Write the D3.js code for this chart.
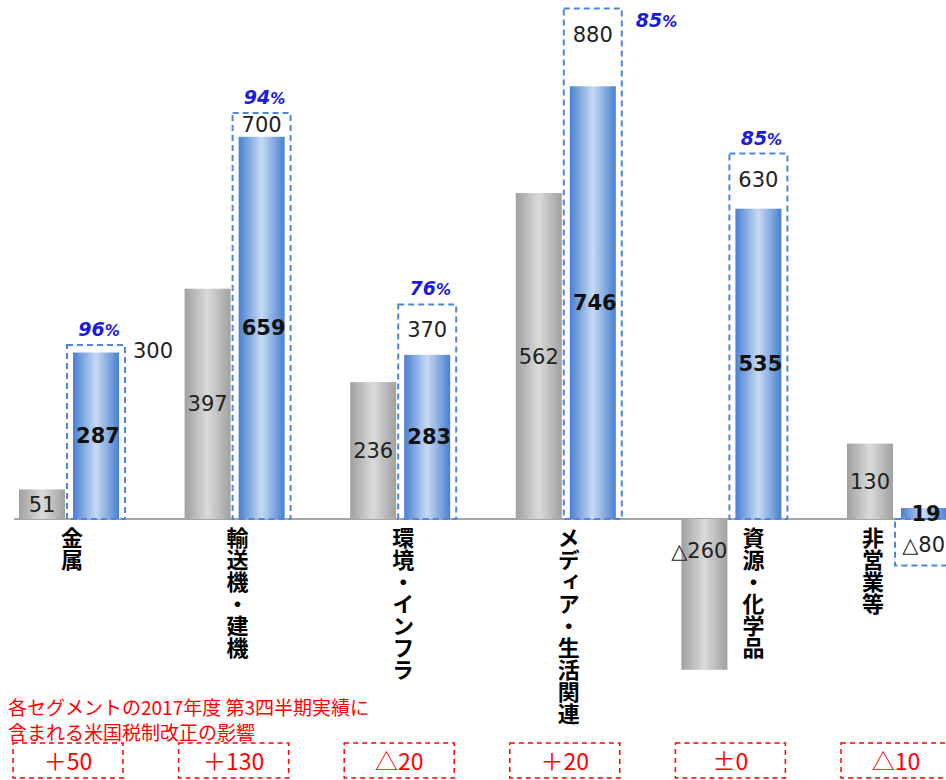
<!DOCTYPE html>
<html><head><meta charset="utf-8">
<script src="https://cdn.jsdelivr.net/npm/d3@7"></script>
<style>
html,body{margin:0;padding:0;background:#fff;}
svg{display:block;}
</style></head>
<body>
<div id="chart"></div>
<script>
// ---- data ----
const categories = ["金属","輸送機・建機","環境・インフラ","メディア・生活関連","資源・化学品","非営業等"];
const prevValues = [51, 397, 236, 562, -260, 130];       // grey bars
const currValues = [287, 659, 283, 746, 535, 19];        // blue bars
const forecastValues = [300, 700, 370, 880, 630, -80];   // dashed boxes
const progressLabels = ["96", "94", "76", "85", "85", null];
const taxImpactLabels = ["＋50", "＋130", "△20", "＋20", "±0", "△10"];
const noteLines = ["各セグメントの2017年度 第3四半期実績に", "含まれる米国税制改正の影響"];

// ---- setup ----
const W = 946, H = 780;
const svg = d3.select("#chart").append("svg").attr("width", W).attr("height", H);
svg.append("rect").attr("width", W).attr("height", H).attr("fill", "#fff");

const x = d3.scaleBand().domain(categories).range([-13.8, 979.8]).padding(0);
const xs = d3.scaleBand().domain(["prev", "curr"]).range([-50, 50]).paddingInner(8 / 54);
const y = d3.scaleLinear().domain([0, 1000]).range([519, -61]);

const fmt = v => v < 0 ? "△" + Math.abs(v) : String(v);
const cx = c => x(c) + x.bandwidth() / 2;

const defs = svg.append("defs");
const gG = defs.append("linearGradient").attr("id", "gGrey").attr("x1", "0").attr("x2", "1").attr("y1", "0").attr("y2", "0");
gG.append("stop").attr("offset", "0").attr("stop-color", "#a0a0a0");
gG.append("stop").attr("offset", "0.5").attr("stop-color", "#dadada");
gG.append("stop").attr("offset", "1").attr("stop-color", "#a0a0a0");
const gB = defs.append("linearGradient").attr("id", "gBlue").attr("x1", "0").attr("x2", "1").attr("y1", "0").attr("y2", "0");
gB.append("stop").attr("offset", "0").attr("stop-color", "#4a7fd2");
gB.append("stop").attr("offset", "0.5").attr("stop-color", "#c6daf2");
gB.append("stop").attr("offset", "1").attr("stop-color", "#4a7fd2");

const numFont = "'DejaVu Sans', Verdana, sans-serif";
const jpFont = "'Noto Sans CJK JP', 'Noto Sans CJK SC', sans-serif";

// baseline
svg.append("line").attr("x1", 14).attr("x2", W).attr("y1", y(0)).attr("y2", y(0))
  .attr("stroke", "#a6a6a6").attr("stroke-width", 2);

const rows = categories.map((c, i) => ({c, i, prev: prevValues[i], curr: currValues[i], fc: forecastValues[i], pct: progressLabels[i], tax: taxImpactLabels[i]}));

// grey bars
svg.selectAll(".gbar").data(rows).join("rect")
  .attr("x", d => cx(d.c) + xs("prev")).attr("width", xs.bandwidth())
  .attr("y", d => y(Math.max(0, d.prev))).attr("height", d => Math.abs(y(d.prev) - y(0)))
  .attr("fill", "url(#gGrey)");

// blue bars
svg.selectAll(".bbar").data(rows).join("rect")
  .attr("x", d => cx(d.c) + xs("curr")).attr("width", xs.bandwidth())
  .attr("y", d => y(Math.max(0, d.curr))).attr("height", d => Math.abs(y(d.curr) - y(0)))
  .attr("fill", "url(#gBlue)");

// forecast dashed boxes
const pad = 6;
svg.selectAll(".fbox").data(rows).join("rect")
  .attr("x", d => cx(d.c) + xs("curr") - pad).attr("width", xs.bandwidth() + 2 * pad)
  .attr("y", d => y(Math.max(0, d.fc))).attr("height", d => Math.abs(y(d.fc) - y(0)))
  .attr("fill", "none").attr("stroke", "#4f86d6").attr("stroke-width", 2).attr("stroke-dasharray", "6,4");

// grey value labels
svg.selectAll(".glab").data(rows).join("text")
  .attr("x", d => d.prev < 0 ? cx(d.c) + xs("prev") + xs.bandwidth() : cx(d.c) + xs("prev") + xs.bandwidth() / 2)
  .attr("y", d => d.prev < 0 ? y(d.prev * 0.21) : y(d.prev / 2))
  .attr("dy", "0.36em")
  .attr("text-anchor", d => d.prev < 0 ? "end" : "middle")
  .attr("font-family", numFont).attr("font-size", 21).attr("fill", "#222")
  .text(d => fmt(d.prev));

// blue value labels (bold)
svg.selectAll(".blab").data(rows).join("text")
  .attr("x", d => cx(d.c) + xs("curr") + xs.bandwidth() / 2 + 2)
  .attr("y", d => y(d.curr / 2))
  .attr("dy", "0.36em")
  .attr("text-anchor", "middle")
  .attr("font-family", numFont).attr("font-weight", "bold").attr("font-size", 21).attr("fill", "#111")
  .text(d => fmt(d.curr));

// forecast labels
rows.forEach(d => {
  const bx = cx(d.c) + xs("curr");
  const top = y(d.fc), barTop = y(d.curr);
  let tx, ty, anchor = "middle";
  if (d.fc < 0) {
    tx = W - 1; ty = y(0) + 25; anchor = "end";
  } else if (Math.abs(barTop - top) < 20) {
    tx = bx + xs.bandwidth() + pad + 8; ty = top + 5; anchor = "start";
  } else {
    tx = bx + xs.bandwidth() / 2; ty = Math.min((top + barTop) / 2, top + 26);
  }
  svg.append("text").attr("x", tx).attr("y", ty).attr("dy", "0.36em")
    .attr("text-anchor", anchor)
    .attr("font-family", numFont).attr("font-size", 21).attr("fill", "#222")
    .text(fmt(d.fc));

  // progress percentage
  if (d.pct) {
    let px, py, pa = "middle";
    if (top < 40) { px = bx + xs.bandwidth() + pad + 14; py = 27; pa = "start"; }
    else { px = bx + xs.bandwidth() / 2 + 3; py = top - 9; }
    const t = svg.append("text").attr("x", px).attr("y", py).attr("text-anchor", pa)
      .attr("font-family", numFont).attr("font-weight", "bold").attr("font-style", "italic")
      .attr("fill", "#1a1ae0");
    t.append("tspan").attr("font-size", 19).text(d.pct);
    t.append("tspan").attr("font-size", 15).text("%");
  }
});

// category labels (vertical)
svg.selectAll(".cat").data(rows).join("text")
  .attr("x", d => {
    if (d.prev < 0) return cx(d.c) + xs("curr") + xs.bandwidth() / 2 - 5;
    if (d.fc < 0) return cx(d.c) + xs("prev") + xs.bandwidth() / 2 + 3;
    return cx(d.c) + 3;
  })
  .attr("y", 527)
  .attr("writing-mode", "vertical-rl")
  .style("text-orientation", "upright")
  .attr("font-family", jpFont).attr("font-weight", "bold").attr("font-size", 22).attr("fill", "#000")
  .text(d => d.c);

// note text
svg.selectAll(".note").data(noteLines).join("text")
  .attr("x", 8).attr("y", (d, i) => 715 + i * 25)
  .attr("font-family", jpFont).attr("font-size", 19).attr("fill", "#ff0000")
  .text(d => d);

// tax impact boxes
svg.selectAll(".tbox").data(rows).join("rect")
  .attr("x", d => cx(d.c) - 56).attr("width", 110)
  .attr("y", 743).attr("height", 35)
  .attr("fill", "none").attr("stroke", "#ff0000").attr("stroke-width", 1.5).attr("stroke-dasharray", "5,4");
svg.selectAll(".tlab").data(rows).join("text")
  .attr("x", d => cx(d.c) - 1).attr("y", 762).attr("dy", "0.36em")
  .attr("text-anchor", "middle")
  .attr("font-family", jpFont).attr("font-size", 23).attr("fill", "#ff0000")
  .text(d => d.tax);
</script>
</body></html>
